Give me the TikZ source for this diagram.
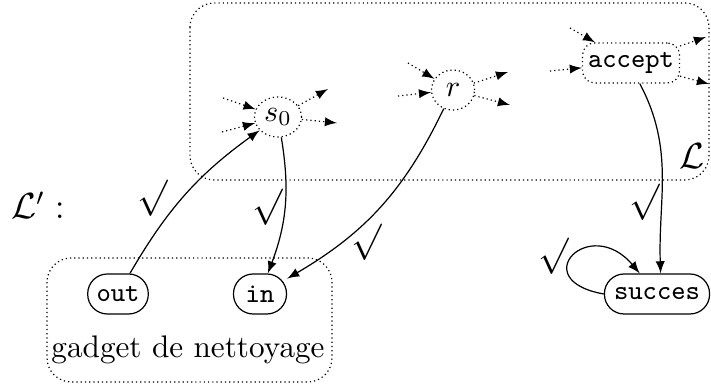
\documentclass[tikz,border=0pt]{standalone}
\usetikzlibrary{arrows,shapes.geometric}
\begin{document}
\begin{tikzpicture}[x=0.33pt,y=0.33pt,>=latex,
  stub/.style={densely dotted,->},
  edge/.style={->},
  ttf/.style={font=\ttfamily\fontsize{9}{10}\selectfont},
  big/.style={font=\fontsize{11.5}{13}\selectfont},
  pill/.style={draw,rounded corners=6.5pt,minimum height=13.2pt,inner sep=1pt,ttf},
  cloud/.style={draw,densely dotted,ellipse,inner sep=0pt,minimum height=13.2pt},
  chk/.style={inner sep=0pt,big},
  region/.style={densely dotted,rounded corners=8pt}]
\useasboundingbox (0,0) rectangle (711,-386);
% regions
\draw[region] (190,-3) rectangle (709,-180);
\draw[region] (47,-258) rectangle (332,-382);
% nodes
\node[cloud,minimum width=15.5pt] (s0) at (278,-117) {$s_0$};
\node[cloud,minimum width=14.2pt] (r) at (453,-90) {$r$};
\node[draw,densely dotted,rounded corners=4pt,minimum width=32pt,minimum height=13.2pt,inner sep=1pt,ttf] (acc) at (631,-63) {accept};
\node[pill,minimum width=20pt] (out) at (118,-294) {out};
\node[pill,minimum width=17.5pt] (in) at (260,-294) {in};
\node[pill,minimum width=34.7pt] (succ) at (657,-294) {succes};
% stub coordinates
\coordinate (s0i1) at (223,-98);
\coordinate (s0i2) at (222,-132);
\coordinate (s0o1) at (328,-89);
\coordinate (s0o2) at (337,-123);
\coordinate (ri1) at (408,-63);
\coordinate (ri2) at (398,-96);
\coordinate (ro1) at (508,-72);
\coordinate (ro2) at (510,-105);
\coordinate (ai1) at (570,-28);
\coordinate (ai2) at (550,-71);
\coordinate (ao1) at (706,-37);
\coordinate (ao2) at (709,-84);
\draw[stub] (s0i1) -- (s0);
\draw[stub] (s0i2) -- (s0);
\draw[stub] (s0) -- (s0o1);
\draw[stub] (s0) -- (s0o2);
\draw[stub] (ri1) -- (r);
\draw[stub] (ri2) -- (r);
\draw[stub] (r) -- (ro1);
\draw[stub] (r) -- (ro2);
\draw[stub] (ai1) -- (acc);
\draw[stub] (ai2) -- (acc);
\draw[stub] (acc) -- (ao1);
\draw[stub] (acc) -- (ao2);
% edges
\draw[edge] (out) to[bend left=12] (s0);
\draw[edge] (s0) to[bend left=15] (in);
\draw[edge] (r) to[bend left=17] (in);
\draw[edge] (acc.293) to[out=-62,in=92] (succ.80);
\draw[edge] (succ.west) .. controls +(170:80) and +(130:78) .. (succ.130);
% check marks
\node[chk] (c1) at (153,-198) {$\surd$};
\node[chk] (c2) at (268,-207) {$\surd$};
\node[chk] (c3) at (367,-242) {$\surd$};
\node[chk] (c4) at (645,-202) {$\surd$};
\node[chk] (c5) at (554,-256) {$\surd$};
% labels
\node[big] (Lp) at (38,-205) {$\mathcal{L}' :$};
\node[big] (L) at (692,-156) {$\mathcal{L}$};
\node[font=\fontsize{10.3}{12}\selectfont] (gad) at (188,-350) {gadget de nettoyage};
\end{tikzpicture}
\end{document}
